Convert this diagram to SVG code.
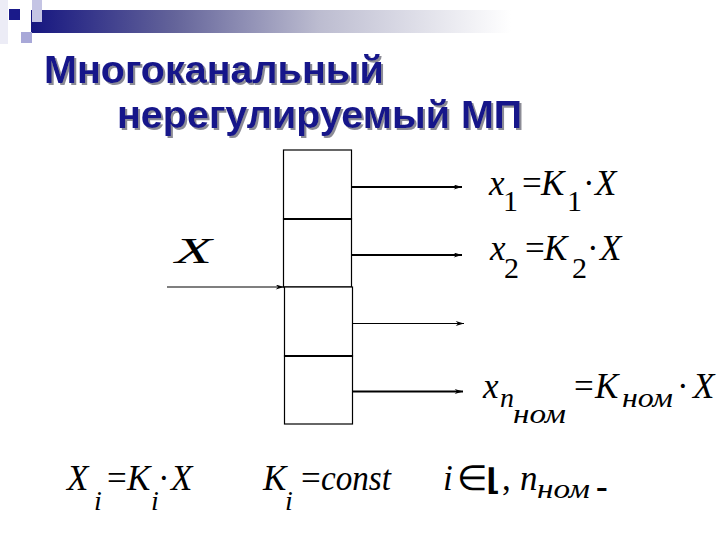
<svg xmlns="http://www.w3.org/2000/svg" width="720" height="540" viewBox="0 0 720 540">
<defs>
<linearGradient id="bar" x1="0" y1="0" x2="1" y2="0">
<stop offset="0" stop-color="#161680"/>
<stop offset="0.3" stop-color="#64649a"/>
<stop offset="0.6" stop-color="#bcbcd0"/>
<stop offset="1" stop-color="#ffffff"/>
</linearGradient>
<filter id="sh" x="-5%" y="-20%" width="110%" height="150%">
<feDropShadow dx="2" dy="2" stdDeviation="0.6" flood-color="#8c8c96" flood-opacity="1"/>
</filter>
<marker id="arr" viewBox="0 0 10 6" refX="10" refY="3" markerWidth="9" markerHeight="5" markerUnits="userSpaceOnUse" orient="auto">
<path d="M0,0 L10,3 L0,6 L3,3 z" fill="#000"/>
</marker>
<style>
.title{font-family:"Liberation Sans",Arial,sans-serif;font-weight:bold;font-size:39.5px;fill:#16168a;filter:url(#sh)}
.cell{fill:#fff;stroke:#000;stroke-width:1.2}
.div{stroke:#000;stroke-width:2.2}
.thick{stroke:#000;stroke-width:2.2;fill:none}
.thin{stroke:#000;stroke-width:1.2;fill:none}
.m{font-family:"Liberation Serif","Times New Roman",serif;font-style:italic;font-size:35px;fill:#000}
.u{font-family:"Liberation Serif","Times New Roman",serif;font-size:35px;fill:#000}
.s{font-family:"Liberation Serif","Times New Roman",serif;font-size:30px;fill:#000}
.si{font-family:"Liberation Serif","Times New Roman",serif;font-style:italic;font-size:28px;fill:#000}
</style>
</defs>
<rect width="720" height="540" fill="#fff"/>
<g id="decor">
<rect x="0" y="0" width="8" height="44" fill="#ececf6"/>
<rect x="31" y="10" width="480" height="23" fill="url(#bar)"/>
<rect x="32" y="0" width="10" height="22" fill="#c4c4e4"/>
<rect x="9" y="9" width="11" height="11" fill="#1a1a8a"/>
<rect x="21" y="32" width="11" height="11" fill="#a8a8d8"/>
</g>
<g id="title">
<text class="title" x="44" y="83">Многоканальный</text>
<text class="title" x="117" y="128">нерегулируемый МП</text>
</g>
<g id="cell1"><rect class="cell" x="283.5" y="150" width="68" height="69"/></g>
<g id="cell2"><rect class="cell" x="283.5" y="219" width="68" height="68"/></g>
<g id="cell3"><rect class="cell" x="284.5" y="287" width="68" height="69"/></g>
<g id="cell4"><rect class="cell" x="284.5" y="356" width="68" height="68"/></g>
<g id="dividers">
<line class="div" x1="283.5" y1="219" x2="351.5" y2="219"/>
<line class="div" x1="284.5" y1="356" x2="352.5" y2="356"/>
</g>
<g id="connectors">
<line class="thin" x1="167" y1="287" x2="284" y2="287" marker-end="url(#arr)"/>
<line class="thick" x1="351.5" y1="187" x2="462" y2="187" marker-end="url(#arr)"/>
<line class="thick" x1="351.5" y1="255" x2="462" y2="255" marker-end="url(#arr)"/>
<line class="thin" x1="352.5" y1="323.5" x2="464" y2="323.5" marker-end="url(#arr)"/>
<line class="thick" x1="352.5" y1="391.5" x2="463" y2="391.5" marker-end="url(#arr)"/>
</g>
<g id="input-label">
<text class="m" x="175" y="263" font-size="31" textLength="37" lengthAdjust="spacingAndGlyphs">X</text>
</g>
<g id="eq1">
<text class="m" x="489" y="195">x</text>
<text class="s" x="503" y="211">1</text>
<text class="u" x="522" y="195">=</text>
<text class="m" x="541" y="195">K</text>
<text class="s" x="567" y="211">1</text>
<text class="u" x="583" y="195">·</text>
<text class="m" x="595" y="195">X</text>
</g>
<g id="eq2">
<text class="m" x="490" y="260">x</text>
<text class="s" x="504" y="278">2</text>
<text class="u" x="525" y="260">=</text>
<text class="m" x="544" y="260">K</text>
<text class="s" x="572" y="278">2</text>
<text class="u" x="587" y="260">·</text>
<text class="m" x="600" y="260">X</text>
</g>
<g id="eq3">
<text class="m" x="483" y="398">x</text>
<text class="si" x="500" y="407">n</text>
<text class="si" x="513" y="423" textLength="53" lengthAdjust="spacingAndGlyphs">ном</text>
<text class="u" x="574" y="398">=</text>
<text class="m" x="595" y="398">K</text>
<text class="si" x="622" y="407" textLength="51" lengthAdjust="spacingAndGlyphs">ном</text>
<text class="u" x="677" y="398">·</text>
<text class="m" x="693" y="398">X</text>
</g>
<g id="eq4">
<text class="m" x="67" y="490">X</text>
<text class="si" x="94" y="510">i</text>
<text class="u" x="107" y="490">=</text>
<text class="m" x="127" y="490">K</text>
<text class="si" x="151" y="510">i</text>
<text class="u" x="158" y="490">·</text>
<text class="m" x="171" y="490">X</text>
</g>
<g id="eq5">
<text class="m" x="263" y="490">K</text>
<text class="si" x="285" y="510">i</text>
<text class="u" x="301" y="490">=</text>
<text class="m" x="321" y="490" textLength="70" lengthAdjust="spacingAndGlyphs">const</text>
</g>
<g id="eq6">
<text class="m" x="443" y="490">i</text>
<text class="u" x="457" y="490" font-size="27">∈</text>
<text x="486" y="490" font-family="DejaVu Sans,sans-serif" font-weight="bold" font-size="30" fill="#000">⌊</text>
<text class="u" x="502" y="490">,</text>
<text class="m" x="520" y="490">n</text>
<text class="si" x="537" y="498" textLength="53" lengthAdjust="spacingAndGlyphs">ном</text>
<text class="u" x="596" y="498" font-size="26" font-weight="bold">-</text>
</g>
</svg>
